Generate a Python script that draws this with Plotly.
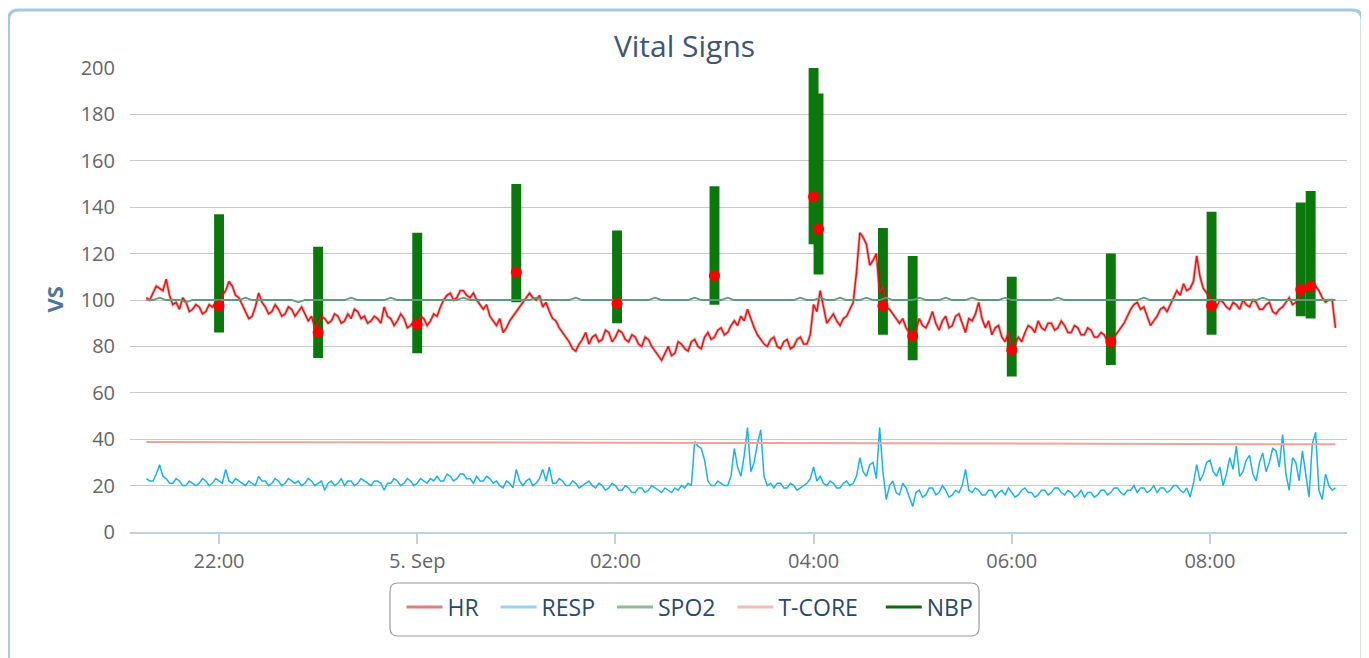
import pandas as pd
import plotly.graph_objects as go

# ---------------- data ----------------
FAST_START = "2013-09-04 21:16"   # HR / RESP sampling
FAST_STEP = "2min"
SLOW_START = "2013-09-04 21:16"   # SPO2 sampling
SLOW_STEP = "4min"

hr = [
    101, 100, 103, 106, 105, 104, 109, 102, 98, 99, 96, 101, 99, 95, 96, 98, 97, 94, 95, 98, 97, 99,
    97, 102, 104, 108, 106, 102, 101, 98, 95, 92, 93, 97, 103, 99, 97, 94, 95, 98, 96, 93, 94, 97, 96, 93, 95, 97, 94, 91, 93, 88,
    90, 93, 92, 90, 91, 94, 93, 90, 91, 94, 92, 96, 95, 92, 93, 90, 91, 93, 92, 90, 97, 93, 92, 89, 91, 94, 92, 88, 89, 91,
    89, 93, 92, 89, 91, 94, 93, 97, 100, 102, 103, 100, 101, 104, 104, 102, 101, 103, 100, 98, 96, 98, 93, 91, 89, 92, 86, 88, 91, 93,
    95, 97, 99, 101, 103, 101, 100, 102, 97, 99, 95, 92, 91, 88, 86, 84, 82, 79, 78, 81, 83, 86, 81, 84, 85, 82, 83, 87, 86, 82,
    84, 87, 86, 83, 82, 85, 84, 81, 80, 84, 83, 80, 78, 76, 74, 77, 80, 76, 77, 82, 81, 79, 78, 82, 83, 80, 79, 84, 86, 83,
    84, 87, 88, 85, 86, 89, 91, 89, 93, 91, 96, 92, 88, 85, 83, 81, 80, 83, 84, 80, 79, 82, 83, 79, 80, 83, 84, 81, 81, 85,
    98, 95, 104, 97, 90, 92, 94, 91, 89, 92, 93, 96, 99, 112, 129, 127, 124, 115, 117, 120, 103, 106, 97, 96, 94, 92, 90, 92, 88, 86,
    84, 87, 92, 89, 88, 91, 95, 90, 87, 91, 93, 88, 89, 93, 94, 90, 86, 92, 91, 94, 99, 92, 88, 91, 85, 88, 89, 84, 82, 86,
    79, 81, 84, 82, 86, 89, 88, 86, 91, 88, 87, 90, 90, 87, 88, 91, 89, 86, 86, 89, 88, 85, 85, 88, 87, 84, 84, 86, 85, 82,
    83, 84, 86, 88, 90, 93, 96, 98, 99, 96, 97, 93, 89, 91, 93, 96, 97, 95, 98, 101, 104, 102, 107, 104, 105, 108, 119, 110, 105, 103,
    101, 98, 97, 100, 99, 97, 96, 99, 98, 96, 100, 98, 97, 100, 99, 96, 96, 98, 99, 95, 94, 96, 97, 99, 101, 98, 99, 101, 103, 104,
    105, 104, 106, 104, 101, 99, 100, 100, 88,
]

resp = [
    23, 22, 22, 25, 29, 24, 23, 21, 21, 23, 22, 20, 20, 22, 21, 20, 21, 23, 22, 20, 21, 23,
    22, 21, 27, 22, 21, 23, 22, 21, 20, 22, 21, 20, 24, 22, 22, 20, 21, 23, 22, 20, 21, 23, 22, 21, 22, 20, 21, 23, 22, 20,
    21, 22, 18, 21, 22, 20, 21, 23, 20, 22, 22, 20, 21, 23, 22, 21, 20, 22, 22, 21, 18, 21, 21, 23, 22, 20, 21, 23, 22, 20,
    21, 23, 22, 21, 23, 22, 24, 22, 22, 25, 24, 22, 23, 25, 25, 23, 23, 21, 24, 22, 22, 24, 23, 21, 22, 20, 19, 22, 21, 19,
    27, 22, 20, 22, 23, 20, 21, 23, 27, 22, 28, 21, 21, 23, 22, 20, 20, 22, 21, 19, 20, 21, 22, 20, 19, 21, 20, 18, 19, 21,
    20, 18, 18, 20, 19, 17, 17, 19, 19, 17, 18, 20, 19, 18, 17, 19, 18, 17, 19, 18, 20, 19, 21, 20, 39, 37, 36, 31, 22, 20,
    20, 22, 21, 20, 20, 24, 36, 28, 24, 33, 45, 26, 30, 38, 44, 24, 20, 21, 19, 21, 21, 19, 19, 21, 20, 18, 19, 20, 21, 23,
    28, 22, 24, 21, 20, 22, 21, 19, 19, 21, 22, 20, 21, 24, 32, 26, 24, 29, 30, 23, 45, 26, 14, 20, 22, 17, 16, 21, 19, 15,
    11, 17, 18, 15, 16, 19, 19, 16, 17, 20, 18, 15, 16, 18, 17, 20, 27, 18, 17, 19, 18, 16, 16, 18, 18, 15, 17, 18, 16, 19,
    17, 15, 16, 18, 19, 17, 17, 15, 16, 18, 18, 16, 17, 19, 19, 17, 16, 18, 17, 15, 16, 18, 15, 17, 17, 15, 16, 18, 18, 16,
    17, 19, 19, 17, 16, 18, 18, 20, 17, 19, 19, 17, 18, 20, 17, 19, 19, 17, 18, 20, 20, 18, 17, 19, 15, 21, 29, 22, 25, 30,
    31, 26, 24, 28, 20, 25, 32, 27, 37, 24, 26, 31, 33, 25, 22, 30, 34, 26, 30, 36, 35, 28, 42, 25, 18, 32, 30, 22, 35, 26,
    15, 38, 43, 18, 14, 25, 20, 18, 19,
]

spo2 = [
    100, 100, 101, 100, 100, 100, 99, 100, 100, 100, 100,
    100, 100, 100, 100, 101, 100, 100, 100, 100, 100, 100, 100, 99, 100, 100,
    100, 100, 100, 100, 100, 101, 100, 100, 100, 100, 100, 101, 100, 100, 100,
    100, 100, 100, 100, 100, 100, 100, 101, 100, 100, 100, 100, 100, 100, 100,
    100, 100, 100, 101, 100, 100, 100, 100, 100, 101, 100, 100, 100, 100, 100,
    100, 100, 100, 100, 100, 100, 101, 100, 100, 100, 100, 100, 101, 100, 100,
    100, 100, 101, 100, 100, 100, 100, 100, 100, 100, 100, 100, 100, 101, 100,
    100, 101, 100, 100, 101, 100, 100, 100, 101, 100, 100, 101, 100, 100, 100,
    100, 101, 100, 100, 100, 101, 100, 100, 100, 101, 100, 100, 100, 100, 101,
    100, 100, 100, 100, 100, 100, 100, 101, 100, 100, 100, 100, 100, 100, 100,
    100, 100, 100, 100, 100, 101, 100, 100, 100, 100, 100, 100, 100, 100, 100,
    100, 100, 100, 100, 100, 100, 100, 100, 101, 100, 100, 100, 100, 100, 100, 100, 100, 100, 100, 100,
]

tcore_times = [
    "2013-09-04 21:16", "2013-09-04 22:00", "2013-09-04 23:00", "2013-09-05 00:00",
    "2013-09-05 01:00", "2013-09-05 02:00", "2013-09-05 03:00", "2013-09-05 04:00",
    "2013-09-05 05:00", "2013-09-05 06:00", "2013-09-05 07:00", "2013-09-05 08:00",
    "2013-09-05 09:00", "2013-09-05 09:10", "2013-09-05 09:16",
]
tcore = [38.8, 38.8, 38.7, 38.7, 38.6, 38.5, 38.4, 38.3, 38.2, 38.1, 38.0, 38.0, 37.9, 37.8, 37.8]

nbp_times = [
    "2013-09-04 22:00", "2013-09-04 23:00", "2013-09-05 00:00", "2013-09-05 01:00",
    "2013-09-05 02:01", "2013-09-05 03:00", "2013-09-05 04:00", "2013-09-05 04:03",
    "2013-09-05 04:42", "2013-09-05 05:00", "2013-09-05 06:00", "2013-09-05 07:00",
    "2013-09-05 08:01", "2013-09-05 08:55", "2013-09-05 09:01",
]
nbp_low = [86, 75, 77, 99, 90, 98, 124, 111, 85, 74, 67, 72, 85, 93, 92]
nbp_high = [137, 123, 129, 150, 130, 149, 200, 189, 131, 119, 110, 120, 138, 142, 147]
nbp_mean = [97.5, 86, 89.5, 112, 98.5, 110.5, 144.5, 130.5, 97.5, 84.5, 78.5, 82, 97.5, 104.5, 106]

x_tickvals = ["2013-09-04 22:00", "2013-09-05 00:00", "2013-09-05 02:00",
              "2013-09-05 04:00", "2013-09-05 06:00", "2013-09-05 08:00"]
x_ticktext = ["22:00", "5. Sep", "02:00", "04:00", "06:00", "08:00"]
y_tickvals = [0, 20, 40, 60, 80, 100, 120, 140, 160, 180, 200]

series_names = ["HR", "RESP", "SPO2", "T-CORE", "NBP"]
legend_colors = ["#e27d7d", "#8fd4f2", "#8fbc9c", "#f3bcb6", "#0b6e0b"]
legend_pads = [2, 2, 2, 3, 0]   # trailing spaces after each legend label

# ---------------- figure ----------------
FONT = "Open Sans, Noto Sans, DejaVu Sans, sans-serif"
OFF = 8                      # page body margin of the html page
W, H = 1369 - OFF, 658 - OFF
PL, PR, PT, PB = 130, 1347, 68, 532          # plot area in page pixels
L, R, T, B = PL - OFF, (W + OFF) - PR, PT - OFF, (H + OFF) - PB
PW, PH = PR - PL, PB - PT

t_fast = pd.date_range(FAST_START, periods=len(hr), freq=FAST_STEP)
t_slow = pd.date_range(SLOW_START, periods=len(spo2), freq=SLOW_STEP)

fig = go.Figure()
# HR drawn with a soft dark shadow underneath, like the original
fig.add_trace(go.Scatter(x=t_fast, y=hr, mode="lines", line=dict(color="rgba(140,0,0,0.25)", width=3.2),
                         showlegend=False, hoverinfo="skip"))
fig.add_trace(go.Scatter(x=t_fast, y=hr, mode="lines", line=dict(color="#f41010", width=1.5),
                         showlegend=False, hoverinfo="skip"))
fig.add_trace(go.Scatter(x=t_fast, y=resp, mode="lines", line=dict(color="#1ab2ea", width=1.5),
                         showlegend=False, hoverinfo="skip"))
fig.add_trace(go.Scatter(x=t_slow, y=spo2, mode="lines", line=dict(color="#5e9a7c", width=1.8),
                         showlegend=False, hoverinfo="skip"))
fig.add_trace(go.Scatter(x=tcore_times, y=tcore, mode="lines", line=dict(color="#f0a39a", width=2),
                         showlegend=False, hoverinfo="skip"))
fig.add_trace(go.Bar(x=nbp_times, y=[h - l for h, l in zip(nbp_high, nbp_low)], base=nbp_low,
                     width=360000, marker=dict(color="#0b780b", line=dict(width=0)),
                     showlegend=False, hoverinfo="skip"))
fig.add_trace(go.Scatter(x=nbp_times, y=nbp_mean, mode="markers",
                         marker=dict(color="#ff0000", size=11, symbol="circle"),
                         showlegend=False, hoverinfo="skip"))

# legend entries
for name, col, pad in zip(series_names, legend_colors, legend_pads):
    fig.add_trace(go.Scatter(x=[None], y=[None], mode="lines", line=dict(color=col, width=3),
                             name=name + "\u00a0" * pad, hoverinfo="skip"))


def px_x(px):
    return (px - PL) / PW


def px_y(py):
    return (PB - py) / PH


# outer rounded container border
x0, x1, yt, yb, r = 8.5, 1362, 10, 700, 10
rx, ry = r / PW, r / PH
outer = (f"M {px_x(x0)},{px_y(yb)} L {px_x(x0)},{px_y(yt) - ry} "
         f"Q {px_x(x0)},{px_y(yt)} {px_x(x0) + rx},{px_y(yt)} "
         f"L {px_x(x1) - rx},{px_y(yt)} Q {px_x(x1)},{px_y(yt)} {px_x(x1)},{px_y(yt) - ry} "
         f"L {px_x(x1)},{px_y(yb)}")

# rounded legend box
lx0, lx1, ly0, ly1, lr = 390, 979, 583, 636, 8
lrx, lry = lr / PW, lr / PH
legbox = (f"M {px_x(lx0) + lrx},{px_y(ly0)} L {px_x(lx1) - lrx},{px_y(ly0)} "
          f"Q {px_x(lx1)},{px_y(ly0)} {px_x(lx1)},{px_y(ly0) - lry} "
          f"L {px_x(lx1)},{px_y(ly1) + lry} Q {px_x(lx1)},{px_y(ly1)} {px_x(lx1) - lrx},{px_y(ly1)} "
          f"L {px_x(lx0) + lrx},{px_y(ly1)} Q {px_x(lx0)},{px_y(ly1)} {px_x(lx0)},{px_y(ly1) + lry} "
          f"L {px_x(lx0)},{px_y(ly0) - lry} Q {px_x(lx0)},{px_y(ly0)} {px_x(lx0) + lrx},{px_y(ly0)} Z")

fig.update_layout(
    width=W, height=H,
    margin=dict(l=L, r=R, t=T, b=B),
    paper_bgcolor="white", plot_bgcolor="white",
    font=dict(family=FONT),
    barmode="overlay",
    title=dict(text="Vital Signs", x=(684.5 - OFF) / W, xref="container", xanchor="center",
               y=(H - (46 - OFF)) / H, yref="container", yanchor="middle",
               font=dict(size=30, color="#3e576f", family=FONT)),
    showlegend=True,
    legend=dict(orientation="h", x=(690 - OFF) / W, xref="container", xanchor="center",
                y=(H - (607 - OFF)) / H, yref="container", yanchor="middle",
                font=dict(size=23, color="#2b4a68", family=FONT),
                bgcolor="rgba(0,0,0,0)", borderwidth=0, itemwidth=36,
                traceorder="normal"),
    xaxis=dict(type="date", range=["2013-09-04 21:06:05", "2013-09-05 09:23:00"],
               tickvals=x_tickvals, ticktext=x_ticktext, showgrid=False,
               showline=True, linecolor="#c0d0e0", linewidth=1.5,
               ticks="outside", ticklen=10, tickcolor="#c0d0e0", tickwidth=1.5,
               tickfont=dict(size=20, color="#666666", family=FONT), zeroline=False),
    yaxis=dict(range=[0, 200], tickvals=y_tickvals, showgrid=True, gridcolor="#c8c8c8",
               gridwidth=1.3, zeroline=False, showline=False, ticks="",
               ticklabelstandoff=14,
               tickfont=dict(size=20, color="#666666", family=FONT)),
    annotations=[dict(text="<b>VS</b>", xref="paper", yref="paper", x=px_x(53.5), y=0.5,
                      xanchor="center", yanchor="middle", textangle=-90, showarrow=False,
                      font=dict(size=22, color="#4d759e", family=FONT))],
    shapes=[
        dict(type="path", xref="paper", yref="paper", path=outer,
             line=dict(color="#a6c9e3", width=3), fillcolor="rgba(0,0,0,0)"),
        dict(type="path", xref="paper", yref="paper", path=legbox,
             line=dict(color="#9a9a9a", width=1.2), fillcolor="rgba(0,0,0,0)"),
    ],
)

fig.write_html("out.html")
